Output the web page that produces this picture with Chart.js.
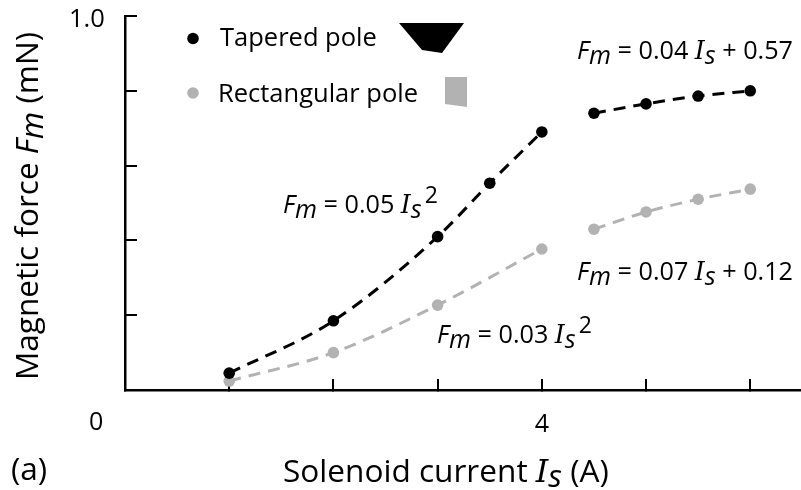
<!DOCTYPE html>
<html>
<head>
<meta charset="utf-8">
<script src="https://cdn.jsdelivr.net/npm/chart.js@4/dist/chart.umd.js"></script>
<style>
html, body { margin: 0; padding: 0; background: #fff; }
#wrap { position: relative; width: 801px; height: 490px; }
</style>
</head>
<body>
<div id="wrap"><canvas id="chart-force" width="801" height="490"></canvas></div>
<script>
const lowCurrent = [1, 2, 3, 3.5, 4]
const highCurrent = [4.5, 5, 5.5, 6]
const taperedLow = [0.045, 0.185, 0.41, 0.553, 0.69]
const taperedHigh = [0.74, 0.765, 0.786, 0.80]
const rectLowCurrent = [1, 2, 3, 4]
const rectLow = [0.024, 0.10, 0.227, 0.377]
const rectHigh = [0.43, 0.476, 0.51, 0.537]
const xTicks = [0, 1, 2, 3, 4, 5, 6]
const yTicks = [0, 0.2, 0.4, 0.6, 0.8, 1]

const BLACK = '#000000'
const GREY = '#b2b2b2'
const FONT = '"Open Sans"'
const SERIF = '"DejaVu Serif"'

function pairs(xs, ys) {
    return xs.map((x, i) => ({ x: x, y: ys[i] }))
}

function series(xs, ys, color) {
    return {
        data: pairs(xs, ys),
        borderColor: color,
        backgroundColor: color,
        borderWidth: 3,
        borderDash: [12, 8],
        cubicInterpolationMode: 'monotone',
        pointRadius: 5.8,
        pointBorderWidth: 0,
        pointHoverRadius: 5.8,
        clip: false
    }
}

/* text runs: [text, italic, baseline shift, family, size] */
function drawRuns(ctx, x, y, size, runs) {
    var cx = x
    runs.forEach(r => {
        ctx.font = (r[1] ? 'italic ' : '') + (r[4] || size) + 'px ' + (r[3] || FONT)
        ctx.fillText(r[0], cx, y + (r[2] || 0))
        cx += ctx.measureText(r[0]).width
    })
}

const labels = {
    id: 'labels',
    afterDraw(chart) {
        const ctx = chart.ctx
        ctx.save()
        ctx.fillStyle = '#000'
        ctx.textBaseline = 'alphabetic'
        ctx.textAlign = 'left'

        /* legend */
        ctx.beginPath(); ctx.arc(193, 38.5, 5.8, 0, Math.PI * 2); ctx.fill()
        drawRuns(ctx, 220, 46, 25.5, [['Tapered pole']])
        ctx.beginPath()
        ctx.moveTo(399, 23); ctx.lineTo(464, 23); ctx.lineTo(442, 53); ctx.lineTo(422, 50)
        ctx.closePath(); ctx.fill()

        drawRuns(ctx, 218, 101.5, 25.5, [['Rectangular pole']])
        ctx.fillStyle = GREY
        ctx.beginPath(); ctx.arc(193, 93, 5.8, 0, Math.PI * 2); ctx.fill()
        ctx.beginPath()
        ctx.moveTo(445, 77); ctx.lineTo(467, 77); ctx.lineTo(467, 107); ctx.lineTo(445, 104)
        ctx.closePath(); ctx.fill()
        ctx.fillStyle = '#000'

        /* fit equations */
        drawRuns(ctx, 577, 58.5, 25.2, [['F', true], ['m', true, 5], [' = 0.04 '], ['I', true, 0, SERIF], ['s', true, 5], [' + 0.57']])
        drawRuns(ctx, 283, 213, 25.2, [['F', true], ['m', true, 5], [' = 0.05 '], ['I', true, 0, SERIF], ['s', true, 5], [' ', false, 0, FONT, 12], ['2', false, -10, FONT, 23]])
        drawRuns(ctx, 577, 280, 25.2, [['F', true], ['m', true, 5], [' = 0.07 '], ['I', true, 0, SERIF], ['s', true, 5], [' + 0.12']])
        drawRuns(ctx, 437, 343, 25.2, [['F', true], ['m', true, 5], [' = 0.03 '], ['I', true, 0, SERIF], ['s', true, 5], [' ', false, 0, FONT, 12], ['2', false, -10, FONT, 23]])

        /* axis text */
        drawRuns(ctx, 89, 430, 25, [['0']])
        drawRuns(ctx, 69, 27, 25.5, [['1.0']])
        drawRuns(ctx, 11, 480, 31.6, [['(a)']])
        drawRuns(ctx, 283, 481.5, 31.6, [['Solenoid current '], ['I', true, 0, SERIF], ['s', true, 5], [' (A)']])

        ctx.translate(38, 380)
        ctx.rotate(-Math.PI / 2)
        drawRuns(ctx, 0, 0, 31.5, [['Magnetic force '], ['F', true], ['m', true, 5], [' (mN)']])
        ctx.restore()
    }
}

function noPad(s) {
    s.paddingTop = 0
    s.paddingBottom = 0
    s.paddingLeft = 0
    s.paddingRight = 0
}

new Chart(document.getElementById('chart-force'), {
    type: 'line',
    data: {
        datasets: [
            series(lowCurrent, taperedLow, BLACK),
            series(highCurrent, taperedHigh, BLACK),
            series(rectLowCurrent, rectLow, GREY),
            series(highCurrent, rectHigh, GREY)
        ]
    },
    options: {
        responsive: false,
        animation: false,
        layout: { autoPadding: false, padding: { top: 16, right: 0, bottom: 0, left: 0 } },
        plugins: { legend: { display: false }, tooltip: { enabled: false } },
        scales: {
            x: {
                type: 'linear',
                min: 0,
                max: 6.487,
                afterFit: s => { s.height = 100; noPad(s) },
                afterBuildTicks: s => { s.ticks = xTicks.map(v => ({ value: v })) },
                border: { color: '#000', width: 2.5 },
                grid: { drawOnChartArea: false, color: '#000', lineWidth: 2, tickLength: -11 },
                ticks: {
                    maxRotation: 0,
                    autoSkip: false,
                    color: '#000',
                    font: { family: FONT, size: 25 },
                    padding: 31,
                    callback: v => v === 4 ? '4' : ''
                }
            },
            y: {
                min: 0,
                max: 1,
                afterFit: s => { s.width = 125; noPad(s) },
                afterBuildTicks: s => { s.ticks = yTicks.map(v => ({ value: v })) },
                border: { color: '#000', width: 2.5 },
                grid: { drawOnChartArea: false, color: '#000', lineWidth: 2, tickLength: -12 },
                ticks: { display: false }
            }
        }
    },
    plugins: [labels]
})
</script>
</body>
</html>
